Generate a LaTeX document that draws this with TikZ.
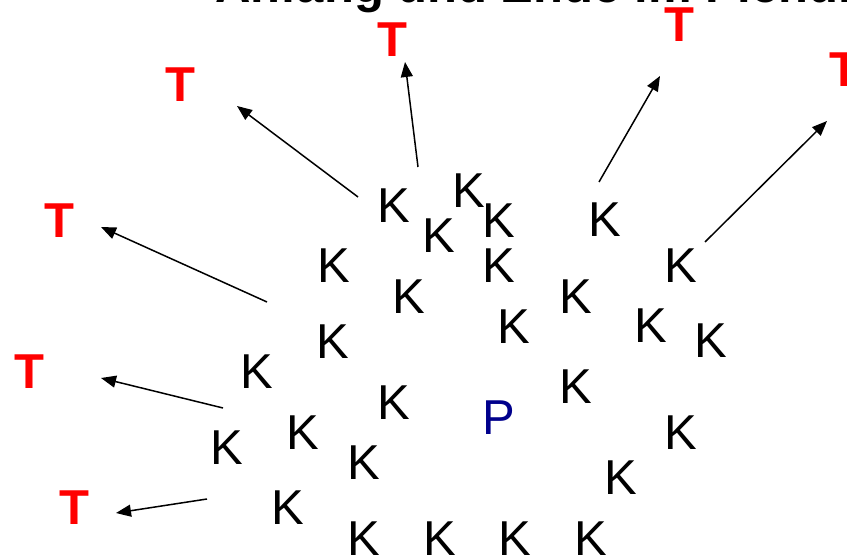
\documentclass[tikz,border=0pt]{standalone}
\usepackage{fontspec}
\setmainfont{Liberation Sans}
\usetikzlibrary{arrows.meta}

\definecolor{tred}{RGB}{255,0,0}
\definecolor{pblue}{RGB}{0,0,140}

\tikzset{
  kid/.style={inner sep=0pt, font=\fontsize{49}{50}\selectfont},
  target/.style={inner sep=0pt, text=tred, font=\fontsize{49}{50}\selectfont\bfseries},
  plenum/.style={inner sep=0pt, text=pblue, font=\fontsize{49}{50}\selectfont},
  leave/.style={line width=1.5pt, -{Triangle[length=15pt,width=12pt]}},
}

\begin{document}
\begin{tikzpicture}[x=1pt, y=-1pt]
  \useasboundingbox (0,0) rectangle (847,559);

  \node [anchor=base west, inner sep=0pt, font=\fontsize{49}{50}\selectfont\bfseries] (title) at (215,3) {Anfang und Ende im Plenum};

  \node [target] (ttopleft) at (392,40) {T};
  \node [target] (ttopright) at (679,25) {T};
  \node [target] (tupperleft) at (180,85) {T};
  \node [target] (tfarright) at (844,70) {T};
  \node [target] (tleft) at (59,221) {T};
  \node [target] (tlowerleft) at (29,372) {T};
  \node [target] (tbottomleft) at (74,508) {T};

  \node [kid] (k1) at (394,206) {K};
  \node [kid] (k2) at (469,191) {K};
  \node [kid] (k3) at (439,236) {K};
  \node [kid] (k4) at (499,221) {K};
  \node [kid] (k5) at (605,220) {K};
  \node [kid] (k6) at (334,266) {K};
  \node [kid] (k7) at (499,266) {K};
  \node [kid] (k8) at (681,266) {K};
  \node [kid] (k9) at (409,297) {K};
  \node [kid] (k10) at (576,297) {K};
  \node [kid] (k11) at (514,327) {K};
  \node [kid] (k12) at (651,326) {K};
  \node [kid] (k13) at (711,341) {K};
  \node [kid] (k14) at (333,342) {K};
  \node [kid] (k15) at (257,372) {K};
  \node [kid] (k16) at (576,387) {K};
  \node [kid] (k17) at (394,403) {K};
  \node [kid] (k18) at (303,433) {K};
  \node [kid] (k19) at (227,448) {K};
  \node [kid] (k20) at (681,433) {K};
  \node [kid] (k21) at (364,463) {K};
  \node [kid] (k22) at (621,478) {K};
  \node [kid] (k23) at (288,508) {K};
  \node [kid] (k24) at (364,539) {K};
  \node [kid] (k25) at (440,539) {K};
  \node [kid] (k26) at (515,539) {K};
  \node [kid] (k27) at (591,539) {K};

  \node [plenum] (plenum) at (499,418) {P};

  \coordinate (startupperleft) at (358,197);
  \coordinate (endupperleft) at (237,106);
  \coordinate (starttopleft) at (418,167);
  \coordinate (endtopleft) at (405,62);
  \coordinate (starttopright) at (599,182);
  \coordinate (endtopright) at (660,76);
  \coordinate (startfarright) at (705,242);
  \coordinate (endfarright) at (827,121);
  \coordinate (startleft) at (267,302);
  \coordinate (endleft) at (101,227);
  \coordinate (startlowerleft) at (223,408);
  \coordinate (endlowerleft) at (101,378);
  \coordinate (startbottomleft) at (207,499);
  \coordinate (endbottomleft) at (116,513);

  \draw [leave] (startupperleft) -- (endupperleft);
  \draw [leave] (starttopleft) -- (endtopleft);
  \draw [leave] (starttopright) -- (endtopright);
  \draw [leave] (startfarright) -- (endfarright);
  \draw [leave] (startleft) -- (endleft);
  \draw [leave] (startlowerleft) -- (endlowerleft);
  \draw [leave] (startbottomleft) -- (endbottomleft);
\end{tikzpicture}
\end{document}
